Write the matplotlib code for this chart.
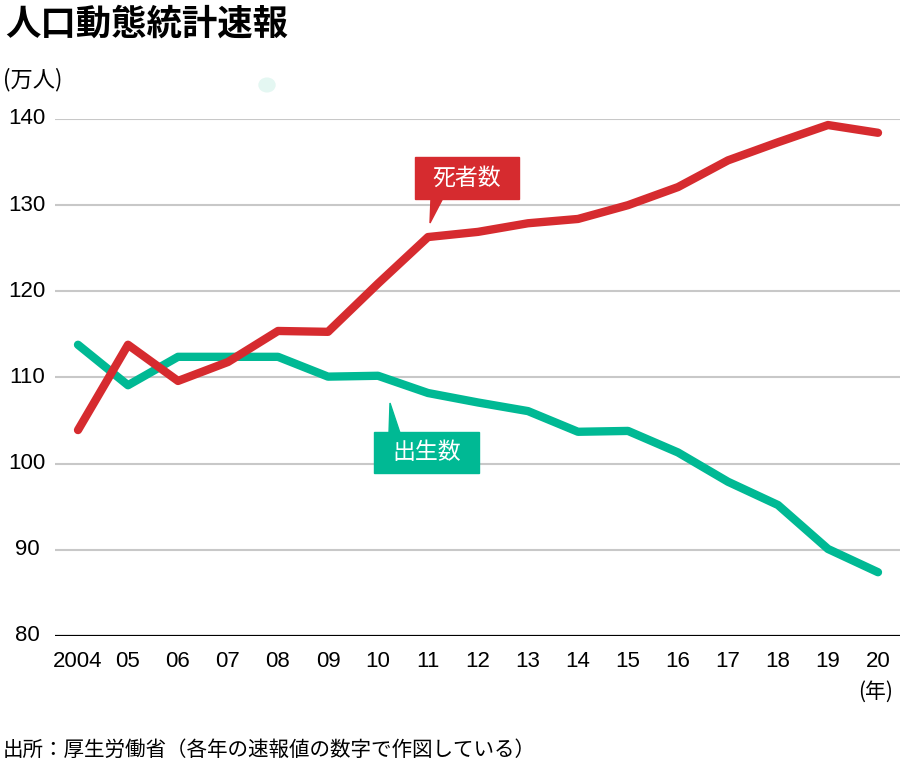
import matplotlib.pyplot as plt
import matplotlib.patches as mpatches

plt.rcParams['font.family'] = ['Noto Sans CJK JP', 'DejaVu Sans']

# データ（万人）
years = list(range(2004, 2021))
year_labels = ['2004', '05', '06', '07', '08', '09', '10', '11', '12', '13',
               '14', '15', '16', '17', '18', '19', '20']
deaths = [103.9, 113.8, 109.6, 111.8, 115.4, 115.3, 120.9, 126.3, 126.9, 127.9,
          128.4, 130.0, 132.1, 135.2, 137.3, 139.3, 138.4]
births = [113.8, 109.1, 112.4, 112.4, 112.4, 110.1, 110.2, 108.2, 107.1, 106.1,
          103.7, 103.8, 101.3, 97.9, 95.2, 90.1, 87.4]
y_ticks = [80, 90, 100, 110, 120, 130, 140]

RED = '#D62B2F'
TEAL = '#00B994'
W, H = 900, 770
NUM_FONT = ['Liberation Sans Narrow', 'Liberation Sans', 'DejaVu Sans']

def fx(px):
    return px / W

def fy(py):
    return 1 - py / H

fig = plt.figure(figsize=(9, 7.7), dpi=100)
ax = fig.add_axes([fx(55), fy(636), fx(900) - fx(55), fy(119) - fy(636)])
ax.set_xlim(2003.54, 2020.44)
ax.set_ylim(80, 140)

# 目盛り線
for v in y_ticks:
    if v == 80:
        ax.axhline(v, color='black', lw=1.6, zorder=1)
    else:
        ax.axhline(v, color='#c8c8c8', lw=1.5, zorder=1)

ax.plot(years, births, color=TEAL, lw=6, solid_capstyle='round',
        solid_joinstyle='round', zorder=3, clip_on=False)
ax.plot(years, deaths, color=RED, lw=6, solid_capstyle='round',
        solid_joinstyle='round', zorder=4, clip_on=False)

for s in ax.spines.values():
    s.set_visible(False)
ax.set_xticks([])
ax.set_yticks([])

# 軸ラベル
for v in y_ticks:
    ax.text(-0.033, v, str(v), transform=ax.get_yaxis_transform(),
            ha='center', va='center', fontsize=16, family=NUM_FONT)
for yr, lab in zip(years, year_labels):
    ax.text(yr, -0.05, lab, transform=ax.get_xaxis_transform(),
            ha='center', va='center', fontsize=16, family=NUM_FONT)

fig.text(fx(5), fy(24), '人口動態統計速報', fontsize=25.5, fontweight='bold',
         ha='left', va='center')
fig.text(fx(3), fy(80), '(万人)', fontsize=16, ha='left', va='center')
fig.text(fx(876), fy(692), '(年)', fontsize=15, ha='center', va='center')
fig.text(fx(3), fy(750), '出所：厚生労働省（各年の速報値の数字で作図している）',
         fontsize=14.8, ha='left', va='center')

# 小さな点
fig.patches.append(mpatches.Circle((fx(267), fy(85)), 8 / W,
                                   transform=fig.transFigure,
                                   color='#e4f7f2', zorder=0))

# ラベル（吹き出し）
def label_box(x0, y0, x1, y1, ptr, text, color):
    box = mpatches.Rectangle((fx(x0), fy(y1)), fx(x1) - fx(x0), fy(y0) - fy(y1),
                             transform=fig.transFigure, color=color, zorder=5)
    fig.patches.append(box)
    tri = mpatches.Polygon([(fx(px), fy(py)) for px, py in ptr], closed=True,
                           transform=fig.transFigure, color=color, zorder=5)
    fig.patches.append(tri)
    fig.text(fx((x0 + x1) / 2), fy((y0 + y1) / 2), text, color='white',
             fontsize=16.5, ha='center', va='center', zorder=6)

label_box(415, 157, 519, 199, [(431, 198), (443, 198), (430, 223)], '死者数', RED)
label_box(374, 432, 479, 473, [(389, 433), (400, 433), (390, 403)], '出生数', TEAL)

fig.savefig('out.png', dpi=100)
